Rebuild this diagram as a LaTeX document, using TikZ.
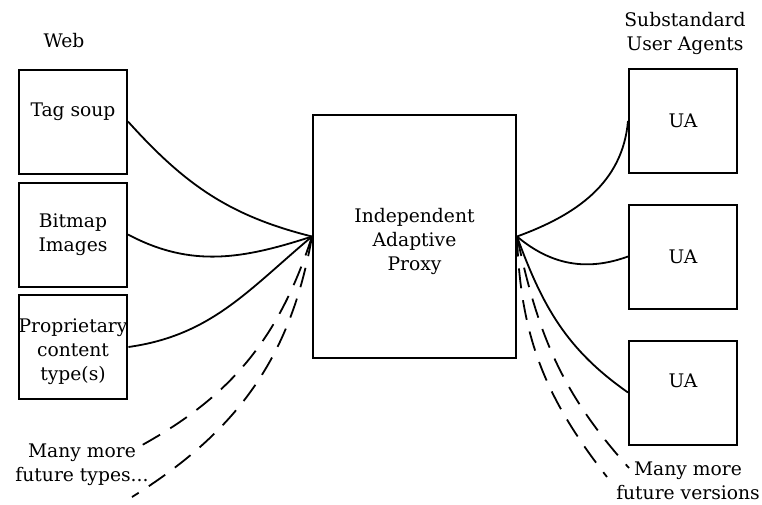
\documentclass[tikz,border=0pt]{standalone}
\usepackage{fontspec}
\setmainfont{DejaVu Serif}
\usepackage{tikz}
\usetikzlibrary{positioning}
\tikzset{
    box/.style={rectangle, draw=black, line width=2pt, fill=white, align=center, minimum width=108pt, minimum height=104pt, inner sep=0pt},
    link/.style={line width=1.8pt},
    future/.style={line width=1.8pt, dash pattern=on 20pt off 12pt},
    note/.style={align=center, inner sep=1pt}
}

\begin{document}
\begin{tikzpicture}[x=1pt, y=-1pt, font=\fontsize{18.7}{24}\selectfont]
    \useasboundingbox (0,0) rectangle (762,504);

    % content sources on the left
    \node[note] (web) at (64,41) {Web};
    \node[box] (tag) at (73,121.5) {Tag soup\\\mbox{}};
    \node[box] (bitmap) at (73,234.5) {Bitmap\\Images};
    \node[box] (prop) at (73,347) {\mbox{}\\Proprietary\\content\\type(s)};

    % the proxy itself
    \node[box, minimum width=203pt, minimum height=243pt] (proxy) at (414.5,236.5) {\mbox{}\\Independent\\Adaptive\\Proxy};

    % user agents on the right
    \node[note] (agents) at (685,33.5) {Substandard\\User Agents};
    \node[box] (ua1) at (683,121) {UA};
    \node[box] (ua2) at (683,256.5) {UA};
    \node[box] (ua3) at (683,392.5) {UA\\\mbox{}};

    \node[note] (moretypes) at (82,465) {Many more\\future types...};
    \node[note] (moreversions) at (688,481) {Many more\\future versions};
    \coordinate (t1) at (133,450);
    \coordinate (t2) at (132,497);
    \coordinate (v1) at (607,477);
    \coordinate (v2) at (629,468);

    \draw[link] (tag.east) to[out=-48, in=166] (proxy.west);
    \draw[link] (bitmap.east) to[out=-28, in=198] (proxy.west);
    \draw[link] (prop.east) to[out=8, in=220] (proxy.west);

    \draw[link] (proxy.east) to[out=20, in=-95] (ua1.west);
    \draw[link] (proxy.east) to[out=-40, in=200] (ua2.west);
    \draw[link] (proxy.east) to[out=-70, in=145] (ua3.west);

    % whatever comes later
    \draw[future] (proxy.west) to[out=-108, in=28] (t1);
    \draw[future] (proxy.west) to[out=-100, in=32] (t2);
    \draw[future] (proxy.east) to[out=-88, in=128] (v1);
    \draw[future] (proxy.east) to[out=-78, in=132] (v2);
\end{tikzpicture}
\end{document}
